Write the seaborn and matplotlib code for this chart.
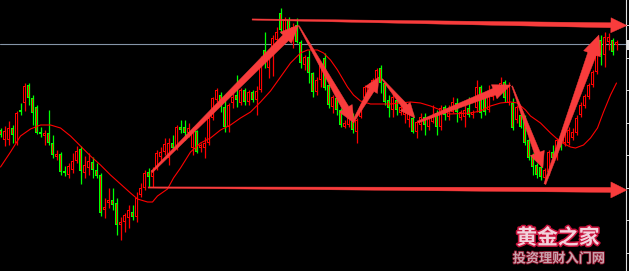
import numpy as np
import matplotlib
matplotlib.use("Agg")
import matplotlib.pyplot as plt
import matplotlib.patheffects as pe
from matplotlib.patches import Polygon, Rectangle
import seaborn as sns

# ---- price bars (one entry per bar) ----
opens = [170, 160, 160, 172, 157, 190, 197, 215, 202, 193, 168, 164, 167, 157, 143, 146, 129, 125, 130, 139,
         151, 127, 132, 138, 130, 125, 90, 97, 100, 97, 75, 78, 82, 88, 83, 105, 112, 128, 123, 132,
         143, 148, 142, 157, 152, 173, 173, 167, 152, 169, 152, 152, 157, 182, 200, 205, 193, 173, 197, 205,
         197, 210, 198, 208, 200, 210, 250, 232, 244, 260, 287, 268, 280, 263, 275, 258, 235, 243, 227, 208,
         220, 242, 215, 193, 202, 190, 173, 175, 182, 168, 183, 202, 207, 212, 220, 232, 217, 200, 190, 200,
         187, 185, 180, 182, 168, 175, 183, 173, 178, 187, 173, 193, 183, 188, 197, 182, 183, 192, 185, 192,
         213, 202, 190, 203, 205, 210, 218, 197, 197, 180, 185, 183, 160, 145, 135, 133, 122, 128, 148, 143,
         160, 157, 157, 162, 167, 185, 194, 203, 215, 228, 260, 245, 258, 260, 255]
highs = [172, 174, 179, 175, 189, 197, 217, 217, 205, 195, 173, 170, 190, 165, 150, 148, 134, 137, 147, 154,
         154, 144, 147, 143, 137, 127, 102, 112, 112, 102, 83, 87, 95, 95, 108, 117, 130, 132, 133, 150,
         153, 162, 162, 165, 175, 180, 180, 177, 173, 170, 157, 163, 185, 203, 212, 208, 200, 197, 207, 225,
         212, 212, 210, 210, 214, 244, 268, 248, 265, 273, 292, 283, 283, 277, 282, 260, 245, 250, 228, 223,
         237, 247, 220, 205, 203, 192, 180, 187, 187, 182, 197, 215, 217, 222, 232, 235, 218, 205, 207, 205,
         197, 195, 197, 187, 180, 187, 187, 183, 195, 190, 195, 195, 195, 203, 202, 190, 195, 203, 190, 220,
         215, 205, 215, 210, 215, 223, 220, 218, 202, 195, 187, 185, 162, 147, 137, 135, 132, 150, 155, 162,
         165, 172, 173, 172, 185, 198, 206, 217, 230, 252, 265, 268, 267, 262, 260]
lows = [163, 154, 155, 157, 155, 185, 189, 195, 175, 166, 163, 155, 155, 142, 140, 125, 124, 122, 127, 137,
        116, 122, 125, 122, 122, 84, 82, 92, 90, 65, 60, 68, 72, 80, 78, 103, 110, 113, 113, 130,
        138, 145, 135, 150, 150, 167, 160, 163, 145, 147, 148, 142, 155, 180, 198, 188, 168, 168, 192, 193,
        195, 195, 195, 198, 185, 208, 232, 222, 224, 258, 267, 265, 260, 252, 257, 232, 230, 217, 203, 205,
        213, 210, 192, 187, 185, 173, 172, 173, 167, 157, 182, 200, 204, 210, 217, 207, 195, 183, 183, 185,
        185, 177, 173, 167, 162, 170, 165, 170, 177, 165, 170, 180, 180, 187, 178, 180, 173, 183, 182, 188,
        182, 185, 188, 200, 202, 208, 198, 195, 170, 177, 172, 155, 140, 125, 122, 120, 116, 125, 138, 140,
        150, 154, 155, 160, 165, 183, 192, 201, 213, 226, 235, 233, 250, 245, 250]
closes = [165, 169, 172, 165, 187, 188, 214, 202, 187, 167, 166, 167, 157, 145, 146, 128, 127, 134, 139, 149,
          129, 135, 139, 130, 124, 87, 93, 100, 95, 75, 78, 85, 90, 83, 102, 112, 127, 123, 130, 147,
          148, 156, 157, 152, 173, 170, 167, 172, 170, 148, 155, 157, 182, 202, 210, 198, 173, 195, 203, 200,
          210, 198, 208, 200, 209, 240, 238, 243, 262, 268, 270, 280, 270, 273, 258, 237, 243, 227, 208, 220,
          235, 212, 195, 203, 190, 175, 177, 182, 170, 180, 193, 213, 215, 220, 230, 217, 198, 192, 203, 190,
          193, 192, 187, 168, 178, 183, 175, 182, 183, 173, 192, 185, 192, 198, 188, 188, 190, 185, 188, 213,
          187, 188, 208, 207, 212, 217, 202, 215, 172, 193, 173, 157, 142, 133, 125, 123, 130, 148, 142, 160,
          153, 168, 170, 168, 182, 195, 204, 215, 228, 245, 245, 263, 263, 248, 258]

# ---- moving average (bar position, value) ----
ma_bar = [0, 2.5, 5, 7.5, 10, 12.5, 15, 17.5, 20, 22.5, 25, 27.5, 30, 32.5, 34.25, 36.75, 38, 39.25,
          41.75, 43.25, 45, 47.5, 50, 52.5, 55, 57.5, 60, 62.5, 65, 67.5, 70, 72.5, 75, 76.75, 79.25,
          80.75, 82.5, 84.25, 86.75, 88.25, 90, 92.5, 97.5, 102.5, 105, 107.5, 110, 112.5, 117.5, 120,
          122.5, 125, 127.5, 129.25, 131.25, 132.5, 135, 137.5, 140, 142.5, 143.75, 145.75, 147.5,
          149.25, 150.75, 152.5, 154]
ma_value = [133, 148, 164, 171, 175, 175, 172, 164, 154, 144, 135, 125, 116, 107, 101, 98, 98, 104,
            111, 122, 132, 148, 157, 162, 170, 175, 182, 188, 198, 209, 223, 237, 247, 250, 250,
            247, 240, 230, 213, 205, 199, 196, 196, 198, 197, 194, 190, 186, 187, 189,
            194, 197, 198, 197, 190, 184, 177, 167, 158, 153, 152, 155, 162,
            172, 188, 205, 217]

bid_price = 256
scale_ticks = [275, 242.5, 210, 177.5, 145, 112.5, 80, 47.5]

# ---- trend arrows: start bar/price -> end bar/price ----
arrow_from_bar = [62.9, 36.9, 37.8, 74.6, 88.1, 95.4, 104.4, 127.9, 136.1]
arrow_from_price = [280.5, 112.5, 128, 274, 178, 221, 178, 214, 116]
arrow_to_bar = [156.6, 156.6, 74.5, 88.4, 94.6, 103.6, 127.6, 135.6, 149.6]
arrow_to_price = [274.5, 110, 275, 177, 223, 182, 215, 132, 265]
# tail width, shaft width at head, head width, head length (pixels)
arrow_shape = [(1.2, 5, 15, 16), (1.2, 5, 16, 16), (2, 8, 16, 18), (1, 7, 15, 17),
               (2, 6, 14, 15), (1, 6, 13, 15), (2, 7, 15, 18), (1, 6, 15, 16), (2, 9, 18, 20)]

RED = "#ff0000"
GREEN = "#00ff00"
ARROW = "#f83c3c"

sns.set_theme(style="dark", rc={"axes.facecolor": "black", "figure.facecolor": "black",
                                "savefig.facecolor": "black"})
plt.rcParams["font.family"] = ["Noto Sans CJK SC", "DejaVu Sans"]

W, H, DPI = 629, 271, 100
fig = plt.figure(figsize=(W / DPI, H / DPI), dpi=DPI)
ax_right_px = 626
ax = fig.add_axes([0, 0, ax_right_px / W, 1])
ax.set_facecolor("black")
ax.set_xlim(-0.125, (ax_right_px - 0.5) / 4)
ax.set_ylim(29, 300)

o = np.array(opens, float)
c = np.array(closes, float)
h = np.array(highs, float)
l = np.array(lows, float)
idx = np.arange(len(o))
bull = c >= o
edge = np.where(bull, RED, GREEN)
fill = np.where(bull, "black", RED)

# bid line
ax.axhline(bid_price, color="#8595a8", linewidth=0.8, zorder=1)

# wicks, body outlines and body centres
ax.vlines(idx, l, h, colors=edge, linewidth=0.9, zorder=2)
body_low = np.minimum(o, c)
body_h = np.maximum(np.abs(c - o), 1)
ax.bar(idx, body_h, bottom=body_low, width=0.78, color=edge, linewidth=0, zorder=3)
inner = body_h > 2
ax.bar(idx[inner], body_h[inner] - 2, bottom=body_low[inner] + 1, width=0.28,
       color=fill[inner], linewidth=0, zorder=3.5)

# moving average
sns.lineplot(x=ma_bar, y=ma_value, color=RED, linewidth=0.8, ax=ax, zorder=4,
             sort=False, estimator=None)

# tapered arrows built in pixel space
def draw_arrow(x0, y0, x1, y1, shape):
    tw, sw, hw, hl = shape
    p0 = ax.transData.transform((x0, y0))
    p1 = ax.transData.transform((x1, y1))
    d = p1 - p0
    u = d / np.hypot(*d)
    nrm = np.array([-u[1], u[0]])
    base = p1 - u * hl
    pts = [p0 + nrm * tw / 2, base + nrm * sw / 2, base + nrm * hw / 2, p1,
           base - nrm * hw / 2, base - nrm * sw / 2, p0 - nrm * tw / 2]
    data_pts = ax.transData.inverted().transform(np.array(pts))
    ax.add_patch(Polygon(data_pts, closed=True, facecolor=ARROW, edgecolor=ARROW,
                         linewidth=0.3, zorder=6, clip_on=False))

for a, b, cc, dd, s in zip(arrow_from_bar, arrow_from_price, arrow_to_bar, arrow_to_price, arrow_shape):
    draw_arrow(a, b, cc, dd, s)

# price scale on the right
for side in ["top", "left", "bottom"]:
    ax.spines[side].set_visible(False)
ax.spines["right"].set_visible(True)
ax.spines["right"].set_color("#e0e0e0")
ax.spines["right"].set_linewidth(0.8)
ax.set_xticks([])
ax.yaxis.tick_right()
ax.set_yticks(scale_ticks)
ax.tick_params(axis="y", right=True, left=False, direction="out", length=2.5, width=0.7,
               color="#e0e0e0", labelright=False, labelleft=False)
ax.grid(False)
ax.set_xlabel("")
ax.set_ylabel("")
fig.add_artist(Rectangle((627 / W, 1 - 50 / H), 3 / W, 10 / H, transform=fig.transFigure,
                         facecolor="#e8e8e8", edgecolor="none"))

# watermark
fig.text(558 / W, 1 - 237.5 / H, "黄金之家", ha="center", va="center", fontsize=15,
         fontweight="bold", color="#f2d2dc", zorder=8,
         path_effects=[pe.withStroke(linewidth=2.2, foreground="#c8123c")])
fig.text(559 / W, 1 - 258.5 / H, "投资理财入门网", ha="center", va="center", fontsize=9.5,
         fontweight="bold", color="#c8a2ac", zorder=8,
         path_effects=[pe.withStroke(linewidth=1.2, foreground="#8a1028")])

fig.savefig("out.png", dpi=DPI, facecolor="black")
